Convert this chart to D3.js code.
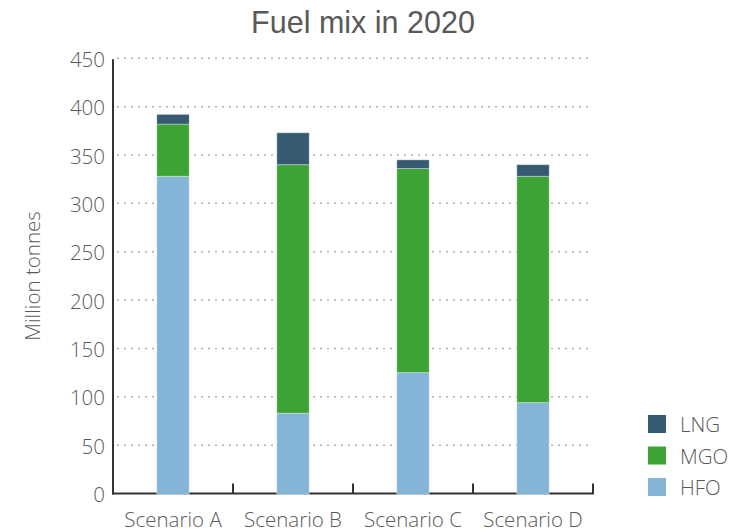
<!DOCTYPE html>
<html>
<head>
<meta charset="utf-8">
<script src="https://cdn.jsdelivr.net/npm/d3@7"></script>
<style>
  body { margin: 0; background: #fff; }
  svg { display: block; }
</style>
</head>
<body>
<svg id="mainsvg" width="746" height="532"></svg>
<script>
const scenarios = ['Scenario A', 'Scenario B', 'Scenario C', 'Scenario D']
const fuels = ['HFO', 'MGO', 'LNG']
const hfo = [328, 83, 125, 94]
const mgo = [54, 257, 211, 234]
const lng = [10, 33, 9, 12]
const yTicks = [0, 50, 100, 150, 200, 250, 300, 350, 400, 450]
const colors = {HFO: '#84b4d6', MGO: '#3ea335', LNG: '#365a72'}

const svg = d3.select('#mainsvg')
const plotL = 113, plotR = 593, plotT = 58.3, plotB = 493.5
const labelFont = 'Open Sans, sans-serif'
const labelSize = 20.5
const labelColor = '#5a5a5a'

const rows = scenarios.map((s, i) => ({name: s, HFO: hfo[i], MGO: mgo[i], LNG: lng[i]}))
const stack = d3.stack().keys(fuels)(rows)

const x = d3.scaleBand().domain(scenarios).range([plotL, plotR]).paddingInner(0.73).paddingOuter(0.365)
const y = d3.scaleLinear().domain([0, 450]).range([plotB, plotT])

// title
svg.append('text')
  .attr('x', 363).attr('y', 33)
  .attr('text-anchor', 'middle')
  .attr('font-family', 'Liberation Sans, Arial, sans-serif')
  .attr('font-size', 30.5)
  .attr('fill', '#595959')
  .text('Fuel mix in 2020')

// gridlines
svg.append('g').selectAll('line')
  .data(yTicks.filter(d => d > 0))
  .join('line')
  .attr('x1', plotL + 4).attr('x2', plotR)
  .attr('y1', d => y(d)).attr('y2', d => y(d))
  .attr('stroke', '#b0b0b0')
  .attr('stroke-width', 1.5)
  .attr('stroke-dasharray', '2,5')

// y tick labels
svg.append('g').selectAll('text')
  .data(yTicks)
  .join('text')
  .attr('x', 105).attr('y', d => y(d) + 8.5)
  .attr('text-anchor', 'end')
  .attr('font-family', labelFont)
  .attr('font-weight', 300)
  .attr('font-size', labelSize)
  .attr('fill', labelColor)
  .text(d => d)

// axis lines
svg.append('line')
  .attr('x1', plotL).attr('x2', plotL).attr('y1', plotT + 1).attr('y2', plotB + 1)
  .attr('stroke', '#333').attr('stroke-width', 2)
svg.append('line')
  .attr('x1', plotL - 1).attr('x2', plotR + 1).attr('y1', plotB).attr('y2', plotB)
  .attr('stroke', '#333').attr('stroke-width', 2)

// x ticks between categories
svg.append('g').selectAll('line')
  .data(scenarios)
  .join('line')
  .attr('x1', d => x(d) + x.bandwidth() / 2 + x.step() / 2)
  .attr('x2', d => x(d) + x.bandwidth() / 2 + x.step() / 2)
  .attr('y1', plotB - 10).attr('y2', plotB)
  .attr('stroke', '#333').attr('stroke-width', 2)

// bars
svg.append('g').selectAll('g')
  .data(stack)
  .join('g')
  .attr('fill', d => colors[d.key])
  .selectAll('rect')
  .data(d => d)
  .join('rect')
  .attr('x', d => x(d.data.name))
  .attr('width', x.bandwidth())
  .attr('y', d => y(d[1]))
  .attr('height', d => y(d[0]) - y(d[1]) + (d[0] === 0 ? 1 : 0))
  .attr('stroke', 'rgba(255,255,255,0.35)')
  .attr('stroke-width', 1)

// x labels
svg.append('g').selectAll('text')
  .data(scenarios)
  .join('text')
  .attr('x', d => x(d) + x.bandwidth() / 2)
  .attr('y', 527)
  .attr('text-anchor', 'middle')
  .attr('font-family', labelFont)
  .attr('font-weight', 300)
  .attr('font-size', labelSize)
  .attr('fill', labelColor)
  .text(d => d)

// y axis title
svg.append('text')
  .attr('transform', 'translate(40,276) rotate(-90)')
  .attr('text-anchor', 'middle')
  .attr('font-family', labelFont)
  .attr('font-weight', 300)
  .attr('font-size', labelSize)
  .attr('fill', labelColor)
  .text('Million tonnes')

// legend
const legendKeys = ['LNG', 'MGO', 'HFO']
const lg = svg.append('g').attr('transform', 'translate(648,415)')
const li = lg.selectAll('g').data(legendKeys).join('g')
  .attr('transform', (d, i) => `translate(0,${i * 31.5})`)
li.append('rect').attr('width', 18).attr('height', 18).attr('fill', d => colors[d])
li.append('text')
  .attr('x', 32).attr('y', 17)
  .attr('font-family', labelFont)
  .attr('font-weight', 300)
  .attr('font-size', labelSize)
  .attr('fill', labelColor)
  .text(d => d)
</script>
</body>
</html>
